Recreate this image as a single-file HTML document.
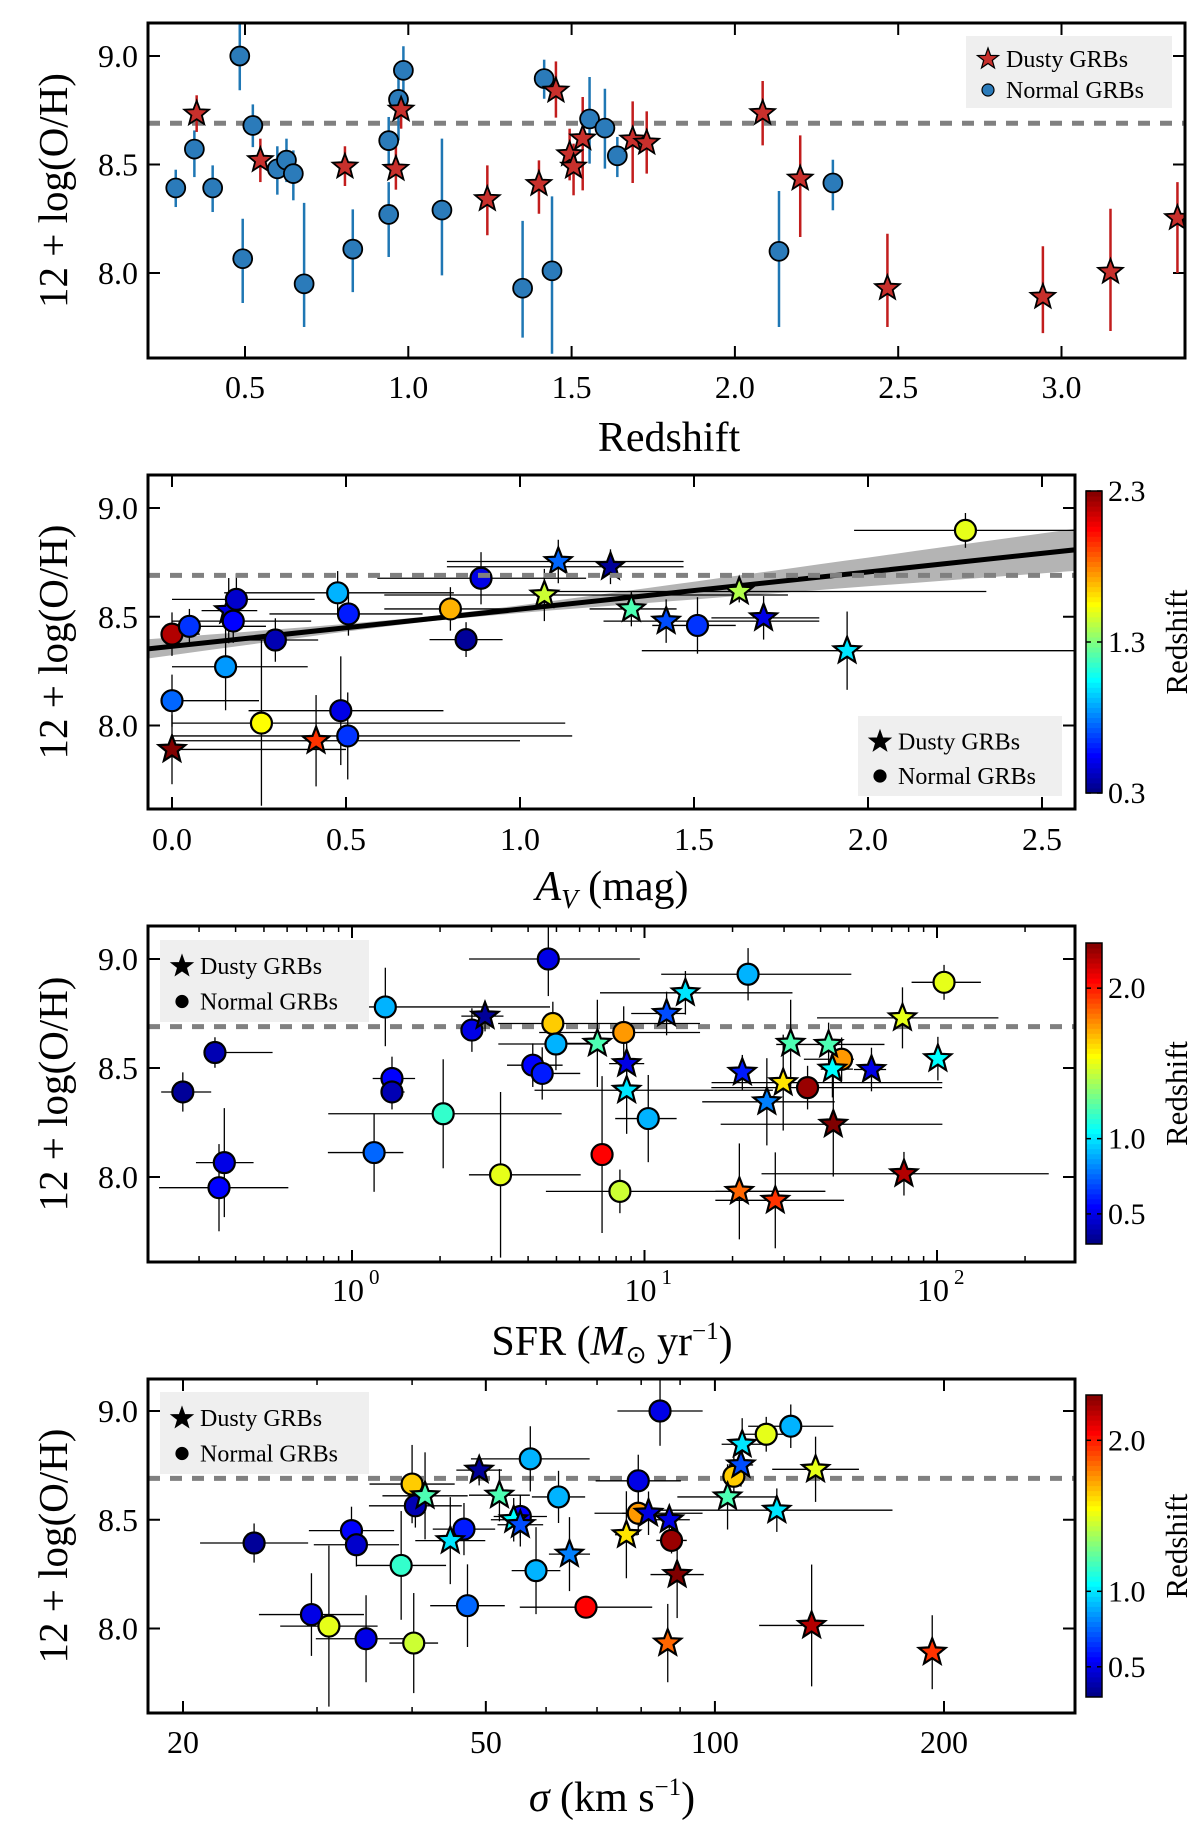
<!DOCTYPE html>
<html><head><meta charset="utf-8">
<style>
body{margin:0;background:#fff;}
svg{display:block;font-family:"Liberation Serif",serif;}
</style></head>
<body>
<svg id="fig" width="1200" height="1824" viewBox="0 0 1200 1824" xmlns="http://www.w3.org/2000/svg"></svg>
<script>
// ---------------- Panel 1 data: redshift vs metallicity ----------------
const p1NormZ  = [0.288,0.345,0.401,0.484,0.493,0.524,0.599,0.627,0.648,0.681,0.83,0.94,0.94,0.97,0.985,1.103,1.35,1.416,1.44,1.555,1.602,1.64,2.135,2.30];
const p1NormOH = [8.392,8.571,8.392,9.00,8.066,8.68,8.48,8.52,8.458,7.95,8.11,8.27,8.61,8.80,8.934,8.29,7.93,8.896,8.01,8.71,8.668,8.54,8.10,8.415];
const p1NormHi = [8.476,8.657,8.496,9.149,8.25,8.777,8.584,8.619,8.565,8.323,8.293,8.419,8.719,8.903,9.045,8.619,8.24,8.983,8.353,8.903,8.849,8.627,8.378,8.522];
const p1NormLo = [8.304,8.442,8.281,8.842,7.862,8.58,8.361,8.419,8.335,7.751,7.912,8.074,8.488,8.611,8.823,7.989,7.702,8.803,7.628,8.504,8.481,8.442,7.751,8.289];
const p1DustZ  = [0.352,0.547,0.806,0.962,0.978,1.242,1.40,1.452,1.494,1.506,1.534,1.687,1.73,2.085,2.20,2.467,2.943,3.15,3.355];
const p1DustOH = [8.734,8.52,8.49,8.48,8.753,8.34,8.41,8.84,8.547,8.49,8.62,8.615,8.60,8.737,8.435,7.93,7.89,8.005,8.253];
const p1DustHi = [8.819,8.619,8.584,8.581,8.842,8.496,8.519,8.975,8.665,8.596,8.811,8.791,8.745,8.885,8.634,8.181,8.123,8.296,8.419];
const p1DustLo = [8.65,8.419,8.401,8.384,8.665,8.174,8.273,8.716,8.427,8.358,8.381,8.415,8.458,8.588,8.166,7.751,7.723,7.733,8.0];

// ---------------- Panel 2 data: Av ----------------
const p2Av   = [0.0,0.163,0.414,1.07,1.11,1.26,1.32,1.42,1.63,1.70,1.94, 0.0,0.0,0.05,0.185,0.176,0.154,0.257,0.297,0.476,0.507,0.485,0.505,0.80,0.845,0.888,1.51,2.28];
const p2OH   = [7.89,8.528,7.93,8.60,8.754,8.73,8.536,8.48,8.616,8.495,8.344, 8.42,8.114,8.456,8.58,8.48,8.27,8.011,8.393,8.61,8.513,8.068,7.952,8.536,8.395,8.677,8.46,8.897];
const p2Z    = [2.3,0.5,1.95,1.45,0.75,0.35,1.2,0.7,1.4,0.5,1.0, 2.2,0.75,0.65,0.45,0.55,0.85,1.55,0.4,0.9,0.6,0.5,0.65,1.7,0.35,0.5,0.65,1.5];
const p2YErr = [0.16,0.15,0.21,0.12,0.1,0.08,0.08,0.1,0.05,0.1,0.18, 0.1,0.12,0.08,0.12,0.1,0.2,0.38,0.1,0.1,0.1,0.25,0.2,0.1,0.08,0.12,0.13,0.08];
const p2XLo  = [0.0,0.085,0.005,0.61,0.79,0.79,1.2,1.24,1.09,1.55,1.35, 0.0,0.0,0.0,0.0,0.0,0.0,0.0,0.14,0.15,0.28,0.22,0.0,0.61,0.74,0.59,1.38,1.96];
const p2XHi  = [0.5,0.245,1.0,1.77,1.47,1.47,1.45,1.86,2.34,1.86,2.6, 0.08,0.25,0.27,0.41,0.4,0.39,1.13,0.42,0.81,0.72,0.78,1.15,1.01,0.95,1.19,1.62,2.6];
const p2Kind = ["s","s","s","s","s","s","s","s","s","s","s","c","c","c","c","c","c","c","c","c","c","c","c","c","c","c","c","c"];
const p2FitIntercept = 8.364, p2FitSlope = 0.171;

// ---------------- Panel 3 data: SFR ----------------
const p3SFR  = [0.264,0.34,0.366,0.351,1.30,1.37,1.37,1.19,2.05,2.57,3.22,4.69,4.15,4.47,4.86,4.98,7.16,8.49,8.24,10.3,22.6,36.1,47.2,105.7, 2.85,6.90,8.69,8.69,11.9,13.8,21.1,21.6,26.2,28.0,29.8,31.6,42.6,43.9,44.2,59.7,77.1,76.2,100.7];
const p3OH   = [8.39,8.571,8.066,7.951,8.78,8.452,8.39,8.112,8.29,8.674,8.01,9.00,8.513,8.475,8.704,8.61,8.103,8.663,7.934,8.268,8.93,8.41,8.54,8.893, 8.738,8.613,8.52,8.398,8.75,8.845,7.934,8.48,8.345,7.893,8.433,8.613,8.608,8.495,8.242,8.493,8.015,8.73,8.543];
const p3Z    = [0.35,0.4,0.5,0.55,0.9,0.55,0.4,0.75,1.15,0.5,1.5,0.5,0.55,0.6,1.65,0.9,2.05,1.75,1.45,0.9,0.9,2.25,1.75,1.5, 0.35,1.2,0.5,1.0,0.7,1.0,1.85,0.6,0.8,1.95,1.6,1.2,1.2,1.05,2.3,0.5,2.2,1.5,1.05];
const p3YErr = [0.09,0.07,0.25,0.2,0.18,0.1,0.08,0.18,0.25,0.1,0.38,0.17,0.1,0.12,0.1,0.12,0.36,0.12,0.1,0.2,0.12,0.1,0.1,0.08, 0.07,0.2,0.1,0.2,0.1,0.1,0.22,0.08,0.2,0.22,0.22,0.2,0.1,0.13,0.24,0.1,0.1,0.14,0.1];
const p3XLoDex = [0.074,0.022,0.097,0.205,0.121,0.066,0.037,0.158,0.393,0.03,0.108,0.271,0.088,0.04,0.187,0.197,0.015,0.289,0.253,0.113,0.297,0.329,0.129,0.111, 0.081,0.123,0.06,0.315,0.121,0.292,0.082,0.03,0.221,0.205,0.245,0.03,0.179,0.04,0.385,0.06,0.487,0.292,0.03];
const p3XHiDex = [0.097,0.197,0.1,0.237,0.563,0.079,0.043,0.1,0.405,0.03,0.274,0.313,0.102,0.13,0.503,0.123,0.015,0.261,0.702,0.097,0.353,0.46,0.042,0.126, 0.063,0.035,0.06,0.5,0.063,0.366,0.294,0.03,0.232,0.235,0.544,0.03,0.191,0.07,0.373,0.05,0.495,0.328,0.03];
const p3Kind = ["c","c","c","c","c","c","c","c","c","c","c","c","c","c","c","c","c","c","c","c","c","c","c","c","s","s","s","s","s","s","s","s","s","s","s","s","s","s","s","s","s","s","s"];

// ---------------- Panel 4 data: velocity dispersion ----------------
const p4Sigma = [24.8,29.5,31.1,33.3,33.8,34.8,38.7,40.0,40.2,40.4,46.8,47.3,55.5,57.2,58.2,62.3,67.7,79.3,79.3,84.7,87.7,105.9,116.8,125.8, 44.9,41.6,49.0,52.1,54.4,55.5,64.4,76.5,81.8,87.1,86.7,89.2,103.9,108.2,108.6,120.6,135.6,134,193];
const p4OH    = [8.393,8.064,8.011,8.45,8.385,7.953,8.29,8.664,7.933,8.564,8.457,8.105,8.515,8.78,8.266,8.605,8.098,8.679,8.53,9.00,8.405,8.70,8.893,8.93, 8.404,8.61,8.728,8.613,8.5,8.477,8.342,8.431,8.53,8.50,7.933,8.248,8.605,8.752,8.847,8.544,8.732,8.014,7.891];
const p4Z     = [0.35,0.5,1.5,0.55,0.45,0.5,1.15,1.65,1.45,0.4,0.6,0.75,0.55,0.9,0.9,0.9,2.05,0.5,1.75,0.5,2.25,1.65,1.5,0.9, 1.0,1.2,0.35,1.2,1.05,0.7,0.8,1.6,0.5,0.5,1.85,2.3,1.2,0.7,1.0,1.0,1.5,2.2,1.95];
const p4YErr  = [0.09,0.19,0.37,0.11,0.1,0.2,0.25,0.18,0.23,0.1,0.12,0.19,0.1,0.15,0.2,0.12,0.05,0.12,0.1,0.16,0.06,0.1,0.08,0.1, 0.2,0.2,0.07,0.12,0.1,0.1,0.17,0.2,0.1,0.05,0.18,0.2,0.15,0.1,0.12,0.1,0.15,0.28,0.17];
const p4XErrDex = [0.071,0.069,0.064,0.056,0.056,0.066,0.059,0.056,0.032,0.061,0.041,0.049,0.035,0.078,0.032,0.035,0.087,0.056,0.021,0.056,0.02,0.015,0.035,0.056, 0.046,0.056,0.03,0.04,0.03,0.03,0.027,0.015,0.071,0.027,0.012,0.035,0.066,0.016,0.027,0.152,0.057,0.069,0.012];
const p4Kind = ["c","c","c","c","c","c","c","c","c","c","c","c","c","c","c","c","c","c","c","c","c","c","c","c", "s","s","s","s","s","s","s","s","s","s","s","s","s","s","s","s","s","s","s"];

const solarOH = 8.69;
const zMin = 0.3, zMax = 2.3;

const NS = "http://www.w3.org/2000/svg";
const svg = document.getElementById("fig");
function mk(tag, attrs, parent){
  const e = document.createElementNS(NS, tag);
  for (const k in attrs) e.setAttribute(k, attrs[k]);
  (parent||svg).appendChild(e);
  return e;
}
function jet(v){
  const t = Math.max(0, Math.min(1, (v - zMin)/(zMax - zMin)));
  const c = x => Math.round(255*Math.max(0, Math.min(1, x)));
  return "rgb(" + c(1.5-Math.abs(4*t-3)) + "," + c(1.5-Math.abs(4*t-2)) + "," + c(1.5-Math.abs(4*t-1)) + ")";
}
function starPts(cx, cy, R, r){
  const p = [];
  for (let i=0;i<10;i++){
    const a = -Math.PI/2 + i*Math.PI/5;
    const rr = i%2 ? r : R;
    p.push((cx+rr*Math.cos(a)).toFixed(1)+","+(cy+rr*Math.sin(a)).toFixed(1));
  }
  return p.join(" ");
}
function marker(g, kind, x, y, fill, name, sw, sc){
  sc = sc || 1;
  let e;
  if (kind === "s") e = mk("polygon", {points: starPts(x,y,14*sc,6*sc), fill: fill, stroke:"#000", "stroke-width": sw||2, "stroke-linejoin":"miter"}, g);
  else e = mk("circle", {cx:x, cy:y, r:10.5*sc, fill: fill, stroke:"#000", "stroke-width": sw||2}, g);
  
  
  return e;
}
function text(g, x, y, s, size, anchor, extra){
  const t = mk("text", Object.assign({x:x, y:y, "font-size":size, "text-anchor":anchor||"middle", fill:"#000"}, extra||{}), g);
  t.textContent = s;
  return t;
}

function frame(P, name){
  const g = mk("g", {});
  
  
  P.g = g;
  return g;
}
function yAxis(P){
  const g = P.g;
  [8.0, 8.5, 9.0].forEach(v=>{
    const y = P.y(v);
    mk("line",{x1:P.L,y1:y,x2:P.L+12,y2:y,stroke:"#000","stroke-width":2},g);
    mk("line",{x1:P.R,y1:y,x2:P.R-12,y2:y,stroke:"#000","stroke-width":2},g);
    const t = text(g, P.L-10, y+11, v.toFixed(1), 32, "end");
    
    
  });
  const yl = text(g, 0, 0, "12 + log(O/H)", 41, "middle", {transform:"translate(67,"+((P.T+P.B)/2)+") rotate(-90)"});
  
  
}
function box(P){
  const b = mk("rect",{x:P.L,y:P.T,width:P.R-P.L,height:P.B-P.T,fill:"none",stroke:"#000","stroke-width":3},P.g);
  
  
}
function solarLine(P){
  const l = mk("line",{x1:P.L,y1:P.y(solarOH),x2:P.R,y2:P.y(solarOH),stroke:"#808080","stroke-width":5,"stroke-dasharray":"12 10"},P.g);
  
  
}
function clipFor(P, id){
  const cp = mk("clipPath",{id:id});
  mk("rect",{x:P.L,y:P.T,width:P.R-P.L,height:P.B-P.T},cp);
  return mk("g",{"clip-path":"url(#"+id+")"},P.g);
}
function colorbar(P, ticks, top, bot){
  const g = mk("g",{});
  
  
  const x0 = 1086, w = 16, n = 60, h = (bot-top)/n;
  for (let i=0;i<n;i++){
    mk("rect",{x:x0,y:bot-(i+1)*h-0.5,width:w,height:h+1,fill:jet(zMin+(i+0.5)/n*(zMax-zMin))},g);
  }
  mk("rect",{x:x0,y:top,width:w,height:bot-top,fill:"none",stroke:"#000","stroke-width":1.5},g);
  ticks.forEach(v=>{
    const y = bot - (v-zMin)/(zMax-zMin)*(bot-top);
    mk("line",{x1:x0,y1:y,x2:x0+5,y2:y,stroke:"#000","stroke-width":1.5},g);
    mk("line",{x1:x0+w,y1:y,x2:x0+w-5,y2:y,stroke:"#000","stroke-width":1.5},g);
    const t = text(g, x0+22, y+10, v.toFixed(1), 30, "start");
    
    
  });
  const lb = text(g, 0, 0, "Redshift", 31, "middle", {transform:"translate(1187,"+((top+bot)/2)+") rotate(-90)"});
  
  
}
function legend(g, x, y, w, h, starFill, circFill){
  const lg = mk("g",{},g);
  
  
  mk("rect",{x:x,y:y,width:w,height:h,fill:"#efefef"},lg);
  const s = mk("polygon",{points:starPts(x+22,y+h*0.32,11,4.5),fill:starFill,stroke:"#000","stroke-width":1.2},lg);
  
  
  const c = mk("circle",{cx:x+22,cy:y+h*0.75,r:6,fill:circFill,stroke:"#000","stroke-width":1.2},lg);
  
  
  text(lg, x+40, y+h*0.32+8, "Dusty GRBs", 24, "start");
  text(lg, x+40, y+h*0.75+8, "Normal GRBs", 24, "start");
}

// ================= Panel 1 =================
(function(){
  const P = {L:148,R:1185,T:23,B:358};
  P.x = v => 245 + (v-0.5)*326.6;
  P.y = v => 56 + (9.0-v)*217;
  const g = frame(P, "panel-redshift");
  [0.5,1.0,1.5,2.0,2.5,3.0].forEach(v=>{
    const x = P.x(v);
    mk("line",{x1:x,y1:P.B,x2:x,y2:P.B-12,stroke:"#000","stroke-width":2},g);
    mk("line",{x1:x,y1:P.T,x2:x,y2:P.T+12,stroke:"#000","stroke-width":2},g);
    const t = text(g, x, 398, v.toFixed(1), 32);
    
    
  });
  yAxis(P);
  solarLine(P);
  const cg = clipFor(P, "c1");
  p1NormZ.forEach((z,i)=>{
    const e = mk("line",{x1:P.x(z),x2:P.x(z),y1:P.y(p1NormHi[i]),y2:P.y(p1NormLo[i]),stroke:"#1f77b4","stroke-width":2.5},cg);
    
    
  });
  p1DustZ.forEach((z,i)=>{
    const e = mk("line",{x1:P.x(z),x2:P.x(z),y1:P.y(p1DustHi[i]),y2:P.y(p1DustLo[i]),stroke:"#c21d1d","stroke-width":2.5},cg);
    
    
  });
  p1NormZ.forEach((z,i)=>marker(cg,"c",P.x(z),P.y(p1NormOH[i]),"#2b7bba","normal-grb-point",1.8,0.9));
  p1DustZ.forEach((z,i)=>marker(cg,"s",P.x(z),P.y(p1DustOH[i]),"#c8302c","dusty-grb-point",1.8,0.92));
  legend(g, 966, 36, 206, 72, "#c8302c", "#2b7bba");
  box(P);
  const xl = text(g, 669, 451, "Redshift", 42);
  
  
})();

function scatter(P, cg, xs, ys, zs, yerr, xlo, xhi, kinds){
  const idx = xs.map((_,i)=>i);
  idx.forEach(i=>{
    const e1 = mk("line",{x1:xlo[i],x2:xhi[i],y1:P.y(ys[i]),y2:P.y(ys[i]),stroke:"#000","stroke-width":1.3},cg);
    
    
    const e2 = mk("line",{x1:P.x(xs[i]),x2:P.x(xs[i]),y1:P.y(ys[i]+yerr[i]),y2:P.y(ys[i]-yerr[i]),stroke:"#000","stroke-width":1.3},cg);
    
    
  });
  idx.forEach(i=>{
    marker(cg, kinds[i], P.x(xs[i]), P.y(ys[i]), jet(zs[i]), kinds[i]==="s"?"dusty-grb-point":"normal-grb-point", 2.2);
  });
}

// ================= Panel 2 =================
(function(){
  const P = {L:148,R:1075,T:475,B:809};
  P.x = v => 172 + v*348;
  P.y = v => 508 + (9.0-v)*217.5;
  const g = frame(P, "panel-av");
  [0.0,0.5,1.0,1.5,2.0,2.5].forEach(v=>{
    const x = P.x(v);
    mk("line",{x1:x,y1:P.B,x2:x,y2:P.B-12,stroke:"#000","stroke-width":2},g);
    mk("line",{x1:x,y1:P.T,x2:x,y2:P.T+12,stroke:"#000","stroke-width":2},g);
    const t = text(g, x, 850, v.toFixed(1), 32);
    
    
  });
  yAxis(P);
  const cg = clipFor(P, "c2");
  const up=[], dn=[];
  for (let k=0;k<=40;k++){
    const a = -0.1 + k*(2.8/40);
    const m = p2FitIntercept + p2FitSlope*a;
    const hw = Math.sqrt(0.012*0.012 + 0.052*0.052*(a-0.75)*(a-0.75));
    up.push(P.x(a).toFixed(1)+","+P.y(m+hw).toFixed(1));
    dn.unshift(P.x(a).toFixed(1)+","+P.y(m-hw).toFixed(1));
  }
  const band = mk("polygon",{points:up.concat(dn).join(" "),fill:"#b4b4b4"},cg);
  
  
  const fl = mk("line",{x1:P.x(-0.1),y1:P.y(p2FitIntercept-0.1*p2FitSlope),x2:P.x(2.7),y2:P.y(p2FitIntercept+2.7*p2FitSlope),stroke:"#000","stroke-width":5},cg);
  
  
  solarLine(P);
  scatter(P, cg, p2Av, p2OH, p2Z, p2YErr, p2XLo.map(P.x), p2XHi.map(P.x), p2Kind);
  legend(g, 858, 716, 204, 80, "#000", "#000");
  box(P);
  colorbar(P, [0.3,1.3,2.3], 491, 793);
  const xl = text(g, 612, 900, "", 42);
  xl.innerHTML = '<tspan font-style="italic">A</tspan><tspan font-style="italic" font-size="27" dy="8">V</tspan><tspan dy="-8"> (mag)</tspan>';
  
  
})();

// ================= Panel 3 =================
(function(){
  const P = {L:148,R:1075,T:926,B:1262};
  P.lx = lv => 352 + lv*292.5;
  P.x = v => P.lx(Math.log10(v));
  P.y = v => 959 + (9.0-v)*218;
  const g = frame(P, "panel-sfr");
  for (let d=-1; d<=2; d++){
    for (let m=1;m<=9;m++){
      const v = m*Math.pow(10,d);
      const x = P.x(v);
      if (x<P.L+1 || x>P.R-1) continue;
      const len = m===1?12:6;
      mk("line",{x1:x,y1:P.B,x2:x,y2:P.B-len,stroke:"#000","stroke-width":m===1?2:1.5},g);
      mk("line",{x1:x,y1:P.T,x2:x,y2:P.T+len,stroke:"#000","stroke-width":m===1?2:1.5},g);
    }
  }
  [0,1,2].forEach(d=>{
    const x = P.lx(d);
    const t = text(g, x-4, 1301, "10", 32);
    
    
    text(g, x+17, 1284, String(d), 21, "start");
  });
  yAxis(P);
  solarLine(P);
  const cg = clipFor(P, "c3");
  const lo = p3SFR.map((v,i)=>P.lx(Math.log10(v)-p3XLoDex[i]));
  const hi = p3SFR.map((v,i)=>P.lx(Math.log10(v)+p3XHiDex[i]));
  scatter(P, cg, p3SFR, p3OH, p3Z, p3YErr, lo, hi, p3Kind);
  legend(g, 160, 940, 209, 82, "#000", "#000");
  box(P);
  colorbar(P, [0.5,1.0,2.0], 943, 1244);
  const xl = text(g, 612, 1355, "", 42);
  xl.innerHTML = 'SFR (<tspan font-style="italic">M</tspan><tspan font-size="25" dy="8">&#8857;</tspan><tspan dy="-8"> yr</tspan><tspan font-size="25" dy="-16">&#8722;1</tspan><tspan dy="16">)</tspan>';
  
  
})();

// ================= Panel 4 =================
(function(){
  const P = {L:148,R:1075,T:1379,B:1713};
  P.lx = lv => 183 + (lv-Math.log10(20))*761;
  P.x = v => P.lx(Math.log10(v));
  P.y = v => 1411 + (9.0-v)*217.5;
  const g = frame(P, "panel-sigma");
  [20,30,40,50,60,70,80,90,100,200].forEach(v=>{
    const x = P.x(v);
    const major = (v===20||v===50||v===100||v===200);
    const len = major?12:6;
    mk("line",{x1:x,y1:P.B,x2:x,y2:P.B-len,stroke:"#000","stroke-width":major?2:1.5},g);
    mk("line",{x1:x,y1:P.T,x2:x,y2:P.T+len,stroke:"#000","stroke-width":major?2:1.5},g);
    if (major){
      const t = text(g, x, 1753, String(v), 32);
      
      
    }
  });
  yAxis(P);
  solarLine(P);
  const cg = clipFor(P, "c4");
  const lo = p4Sigma.map((v,i)=>P.lx(Math.log10(v)-p4XErrDex[i]));
  const hi = p4Sigma.map((v,i)=>P.lx(Math.log10(v)+p4XErrDex[i]));
  scatter(P, cg, p4Sigma, p4OH, p4Z, p4YErr, lo, hi, p4Kind);
  legend(g, 160, 1392, 209, 82, "#000", "#000");
  box(P);
  colorbar(P, [0.5,1.0,2.0], 1395, 1697);
  const xl = text(g, 612, 1811, "", 42);
  xl.innerHTML = '<tspan font-style="italic">&#963;</tspan> (km s<tspan font-size="25" dy="-16">&#8722;1</tspan><tspan dy="16">)</tspan>';
  
  
})();
</script>
</body></html>
